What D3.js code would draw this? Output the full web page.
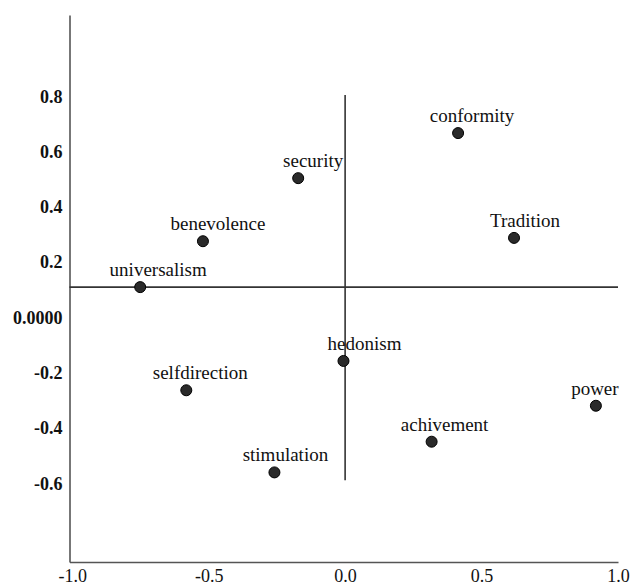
<!DOCTYPE html>
<html>
<head>
<meta charset="utf-8">
<script src="https://cdn.jsdelivr.net/npm/d3@7"></script>
<style>
  body { margin: 0; background: #fff; }
  .tick text { font-family: "Liberation Serif", "Times New Roman", serif; fill: #111; }
  .lbl { font-family: "Liberation Serif", "Times New Roman", serif; font-size: 19px; fill: #111; }
</style>
</head>
<body>
<div id="chart"></div>
<script>
// values dimensions (MDS style plot)
var names = ["conformity", "security", "Tradition", "benevolence", "universalism",
             "hedonism", "selfdirection", "achivement", "stimulation", "power"];
var dim1 = [0.414, -0.172, 0.619, -0.521, -0.751, -0.006, -0.582, 0.317, -0.259, 0.919];
var dim2 = [0.667, 0.504, 0.288, 0.276, 0.110, -0.157, -0.263, -0.449, -0.560, -0.319];

var xTicks = [-1.0, -0.5, 0.0, 0.5, 1.0];
var xTickLabels = ["-1.0", "-0.5", "0.0", "0.5", "1.0"];
var yTicks = [0.8, 0.6, 0.4, 0.2, 0.0, -0.2, -0.4, -0.6];
var yTickLabels = ["0.8", "0.6", "0.4", "0.2", "0.0000", "-0.2", "-0.4", "-0.6"];

// reference lines (data units)
var refLineY = 0.11;
var refLineX = 0.0;
var refXSpan = [-0.588, 0.805];

// label nudges (px), labels were placed by hand in the original
var labelDx = [14, 15, 11, 15, 18, 21, 14, 13, 11, -1];

var W = 631, H = 588;

var svg = d3.select("#chart")
  .append("svg")
    .attr("width", W)
    .attr("height", H);

var x = d3.scaleLinear()
  .domain([-1.01, 1.0])
  .range([69.5, 618]);

var y = d3.scaleLinear()
  .domain([-0.884, 1.094])
  .range([562, 15]);

// y axis
var yAxis = svg.append("g")
  .attr("transform", "translate(" + x(-1.01) + ",0)")
  .call(d3.axisLeft(y)
    .tickValues(yTicks)
    .tickSize(0)
    .tickSizeOuter(0)
    .tickPadding(7)
    .tickFormat(function(d, i) { return yTickLabels[i]; }));
yAxis.selectAll("text")
  .style("font-size", "18px")
  .style("font-weight", "bold");

// x axis
var xAxis = svg.append("g")
  .attr("transform", "translate(0," + y(-0.884) + ")")
  .call(d3.axisBottom(x)
    .tickValues(xTicks)
    .tickSize(0)
    .tickSizeOuter(0)
    .tickPadding(7)
    .tickFormat(function(d, i) { return xTickLabels[i]; }));
xAxis.selectAll("text")
  .style("font-size", "18px");

svg.selectAll(".domain")
  .attr("stroke", "#555")
  .attr("stroke-width", 1.6);

// reference lines
svg.append("line")
  .attr("x1", x(-1.01)).attr("x2", x(1.0))
  .attr("y1", y(refLineY)).attr("y2", y(refLineY))
  .attr("stroke", "#333").attr("stroke-width", 1.6);

svg.append("line")
  .attr("x1", x(refLineX)).attr("x2", x(refLineX))
  .attr("y1", y(refXSpan[1])).attr("y2", y(refXSpan[0]))
  .attr("stroke", "#333").attr("stroke-width", 1.6);

var pts = names.map(function(n, i) { return {name: n, a: dim1[i], b: dim2[i], dx: labelDx[i]}; });

svg.selectAll("circle")
  .data(pts)
  .enter()
  .append("circle")
    .attr("cx", function(d) { return x(d.a); })
    .attr("cy", function(d) { return y(d.b); })
    .attr("r", 5.5)
    .attr("fill", "#2a2a2a")
    .attr("stroke", "#000")
    .attr("stroke-width", 1);

svg.selectAll(".lbl")
  .data(pts)
  .enter()
  .append("text")
    .attr("class", "lbl")
    .attr("x", function(d) { return x(d.a) + d.dx; })
    .attr("y", function(d) { return y(d.b) - 11; })
    .attr("text-anchor", "middle")
    .text(function(d) { return d.name; });
</script>
</body>
</html>
